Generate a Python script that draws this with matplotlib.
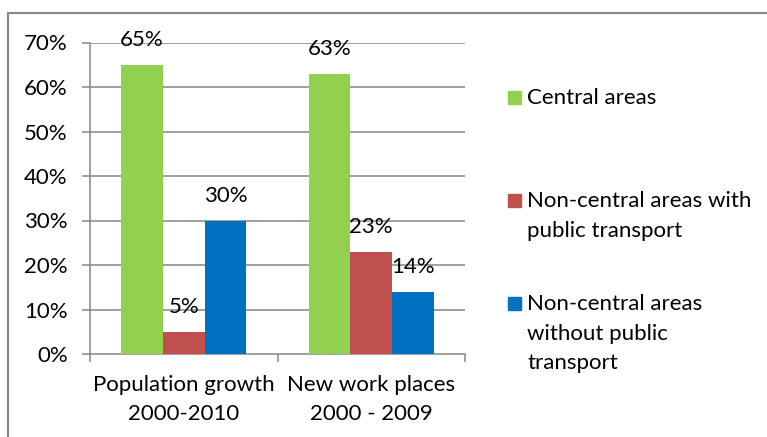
import numpy as np
import matplotlib
matplotlib.use('Agg')
import matplotlib.pyplot as plt
from matplotlib.patches import Rectangle
from matplotlib.lines import Line2D

plt.rcParams['font.family'] = ['Lato', 'DejaVu Sans']

categories = ['Population growth\n2000-2010', 'New work places\n2000 - 2009']
series_names = ['Central areas',
                'Non-central areas with\npublic transport',
                'Non-central areas\nwithout public\ntransport']
central = [0.65, 0.63]
with_transport = [0.05, 0.23]
without_transport = [0.30, 0.14]
colors = ['#92D050', '#C0504D', '#0070C0']

W, H = 767, 437
fig = plt.figure(figsize=(W / 100, H / 100), dpi=100)
ax = fig.add_axes([90 / W, (H - 354) / H, (465 - 90) / W, (354 - 42.5) / H])

grid_col = '#868686'
fs = 16

x = np.arange(len(categories))
bar_w = 1 / 4.5  # gap width 150%
for i, (vals, col) in enumerate(zip([central, with_transport, without_transport], colors)):
    pos = x + (i - 1) * bar_w
    ax.bar(pos, vals, width=bar_w, color=col, zorder=3)
    for p, v in zip(pos, vals):
        ax.annotate(f'{v * 100:.0f}%', (p, v), xytext=(0, 18), textcoords='offset points',
                    ha='center', va='center', fontsize=fs, zorder=4)

ax.set_xlim(-0.5, len(categories) - 0.5)
ax.set_ylim(0, 0.7)
yt = np.arange(0, 0.71, 0.1)
ax.set_yticks(yt)
ax.set_yticklabels([f'{t * 100:.0f}%' for t in yt], fontsize=fs)
for t in yt[1:]:
    ax.axhline(t, color=grid_col, lw=1.1, zorder=1)

# category boundaries get tick marks, labels sit in the middle
ax.set_xticks(np.arange(len(categories) + 1) - 0.5)
ax.set_xticklabels([])
ax.set_xticks(x, minor=True)
ax.set_xticklabels(categories, minor=True, fontsize=fs, linespacing=1.55)
ax.tick_params(axis='x', which='minor', length=0, pad=15)
ax.tick_params(axis='x', which='major', length=6, color=grid_col, width=1.1)
ax.tick_params(axis='y', length=6, color=grid_col, width=1.1, pad=10)

for s in ['top', 'right']:
    ax.spines[s].set_visible(False)
for s in ['left', 'bottom']:
    ax.spines[s].set_color(grid_col)
    ax.spines[s].set_linewidth(1.1)

# legend drawn by hand to keep the wide Excel-style spacing
legend_y = [97, 200, 303]
for name, col, yy in zip(series_names, colors, legend_y):
    fig.add_artist(Rectangle((508 / W, (H - yy - 6.5) / H), 13 / W, 13 / H,
                             transform=fig.transFigure, color=col))
    fig.text(527 / W, (H - yy + 9) / H, name, fontsize=fs, va='top', ha='left',
             linespacing=1.6)

# chart frame (top and left edges)
fig.add_artist(Line2D([8 / W, 1], [(H - 13) / H] * 2, transform=fig.transFigure,
                      color=grid_col, lw=1.5))
fig.add_artist(Line2D([8 / W] * 2, [0, (H - 13) / H], transform=fig.transFigure,
                      color=grid_col, lw=1.5))

fig.savefig('out.png', dpi=100)
